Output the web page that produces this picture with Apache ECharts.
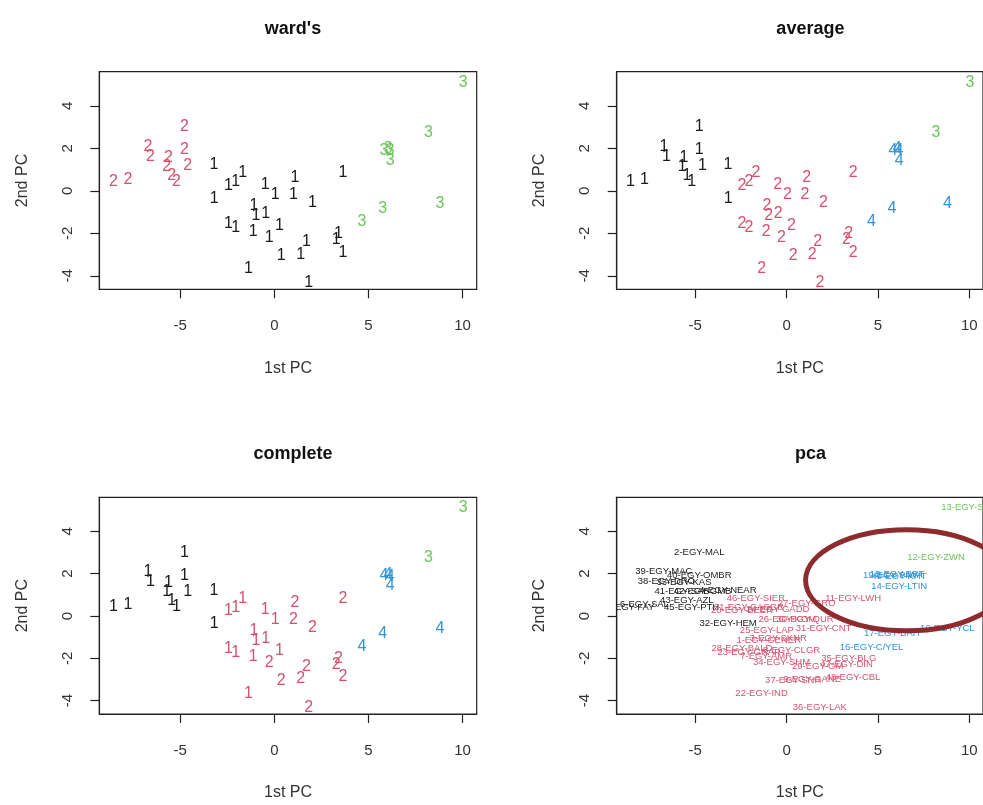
<!DOCTYPE html>
<html>
<head>
<meta charset="utf-8">
<script src="https://cdn.jsdelivr.net/npm/echarts@6/dist/echarts.min.js"></script>
<style>
  html, body { margin: 0; padding: 0; background: #ffffff; overflow: hidden; }
  #chart { width: 983px; height: 805px; }
</style>
</head>
<body>
<div id="chart"></div>
<script>
// Principal component scores of the samples (1st and 2nd PC)
const pc1 = [
  -4.78, -6.72, -6.58, -5.62, -4.78, -5.72, -4.60, -5.46, -5.20, -8.55, -7.78,
  -3.21, -3.20,
  -2.44, -2.06, -1.68, -0.49, 0.04, 1.10, 1.01, 2.02, 3.64,
  -1.08, -0.98, -0.46, -2.44, -2.06, -1.12, -0.28, 0.27, 1.70, 0.36, 1.40,
  3.28, 3.40, 3.64, -1.37, 1.82,
  10.03, 8.18, 5.82, 6.05, 6.15, 6.16, 5.76, 4.65, 8.80
];
const pc2 = [
  3.02, 2.09, 1.62, 1.58, 1.93, 1.15, 1.17, 0.72, 0.43, 0.43, 0.54,
  1.22, -0.35,
  0.25, 0.42, 0.84, 0.32, -0.18, 0.62, -0.17, -0.57, 0.84,
  -0.67, -1.17, -1.05, -1.54, -1.72, -1.90, -2.18, -1.64, -2.40, -3.03, -2.98,
  -2.30, -2.02, -2.88, -3.65, -4.33,
  5.12, 2.76, 1.90, 1.98, 1.88, 1.42, -0.84, -1.46, -0.60
];
const sampleNames = [
  "2-EGY-MAL", "39-EGY-MAC", "38-EGY-DRO", "33-EGY-KAS", "40-EGY-OMBR", "41-EGY-SAB",
  "42-EGY-GMB", "43-EGY-AZL", "45-EGY-PTH", "5-EGY-FAY", "6-EGY-SAL",
  "4-EGY-NEAR", "32-EGY-HEM",
  "20-EGY-BEER", "21-EGY-CASGR", "46-EGY-SIER", "24-EGY-GADD", "26-EGY-KOM",
  "27-EGY-GRO", "30-EGY-QUR", "31-EGY-CNT", "11-EGY-LWH",
  "25-EGY-LAP", "1-EGY-GENER", "3-EGY-SKNR", "28-EGY-BALD", "23-EGY-GRAP",
  "7-EGY-AMR", "34-EGY-SHM", "8-EGY-CLGR", "29-EGY-GM", "37-EGY-SNR", "9-EGY-GANE",
  "47-EGY-DIN", "35-EGY-BLG", "48-EGY-CBL", "22-EGY-IND", "36-EGY-LAK",
  "13-EGY-SWA", "12-EGY-ZWN", "19-EGY-SIWA", "15-EGY-BRT", "49-EGY-KHT",
  "14-EGY-LTIN", "17-EGY-BAH", "16-EGY-C/YEL", "10-EGY-YCL"
];
// Cluster memberships from the three linkage methods
const wardCluster = [
  2, 2, 2, 2, 2, 2, 2, 2, 2, 2, 2,
  1, 1,
  1, 1, 1, 1, 1, 1, 1, 1, 1,
  1, 1, 1, 1, 1, 1, 1, 1, 1, 1, 1,
  1, 1, 1, 1, 1,
  3, 3, 3, 3, 3, 3, 3, 3, 3
];
const averageCluster = [
  1, 1, 1, 1, 1, 1, 1, 1, 1, 1, 1,
  1, 1,
  2, 2, 2, 2, 2, 2, 2, 2, 2,
  2, 2, 2, 2, 2, 2, 2, 2, 2, 2, 2,
  2, 2, 2, 2, 2,
  3, 3, 4, 4, 4, 4, 4, 4, 4
];
const completeCluster = [
  1, 1, 1, 1, 1, 1, 1, 1, 1, 1, 1,
  1, 1,
  1, 1, 1, 1, 1, 2, 2, 2, 2,
  1, 1, 1, 1, 1, 1, 2, 1, 2, 2, 2,
  2, 2, 2, 1, 2,
  3, 3, 4, 4, 4, 4, 4, 4, 4
];
const xTicks = [-5, 0, 5, 10];
const yTicks = [-4, -2, 0, 2, 4];
const panelTitles = ["ward's", "average", "complete", "pca"];
// Ring drawn around the eastern group on the pca panel: centre x, centre y, radius x, radius y
const ringCenterX = [6.57];
const ringCenterY = [1.69];
const ringRadiusX = [5.53];
const ringRadiusY = [2.39];

const palette = ['#1a1a1a', '#D4526E', '#6CC55A', '#2E93DB'];
const FONT = '"Liberation Sans", Arial, sans-serif';
const X_RANGE = [-9.3, 10.75];
const Y_RANGE = [-4.63, 5.61];

const panels = [
  { left: 99.3, top: 71.7, height: 217.6 },
  { left: 616.7, top: 71.7, height: 217.6 },
  { left: 99.3, top: 497.3, height: 216.7 },
  { left: 616.7, top: 497.3, height: 216.7 }
];
const PANEL_WIDTH = 377.4;

// text and colour of every label, per panel
const panelText = [
  i => String(wardCluster[i]),
  i => String(averageCluster[i]),
  i => String(completeCluster[i]),
  i => sampleNames[i]
];
const panelColor = [
  i => palette[wardCluster[i] - 1],
  i => palette[averageCluster[i] - 1],
  i => palette[averageCluster[i] - 1],
  i => palette[averageCluster[i] - 1]
];
const panelFontSize = [16, 16, 16, 9.5];

const grids = panels.map(p => ({
  left: p.left, top: p.top, width: PANEL_WIDTH, height: p.height,
  show: true, borderColor: '#222', borderWidth: 1.2, backgroundColor: 'transparent',
  containLabel: false
}));

const xAxes = panels.map((p, k) => ({
  gridIndex: k, type: 'value', min: X_RANGE[0], max: X_RANGE[1],
  name: '1st PC', nameLocation: 'middle', nameGap: 71,
  nameTextStyle: { fontSize: 16, color: '#333', fontFamily: FONT },
  axisLine: { show: true, onZero: false, lineStyle: { color: '#222', width: 1.2 } },
  axisTick: { show: true, inside: false, length: 9, customValues: xTicks, lineStyle: { color: '#222', width: 1.2 } },
  axisLabel: { customValues: xTicks, margin: 29, fontSize: 15, color: '#333', fontFamily: FONT },
  splitLine: { show: false }
}));

const yAxes = panels.map((p, k) => ({
  gridIndex: k, type: 'value', min: Y_RANGE[0], max: Y_RANGE[1],
  name: '2nd PC', nameLocation: 'middle', nameGap: 69,
  nameTextStyle: { fontSize: 16, color: '#333', fontFamily: FONT },
  axisLine: { show: true, onZero: false, lineStyle: { color: '#222', width: 1.2 } },
  axisTick: { show: true, inside: false, length: 9, customValues: yTicks, lineStyle: { color: '#222', width: 1.2 } },
  axisLabel: { customValues: yTicks, rotate: 90, margin: 24, fontSize: 15, color: '#333', fontFamily: FONT },
  splitLine: { show: false }
}));

const pointData = pc1.map((x, i) => [x, pc2[i]]);

const labelSeries = panels.map((p, k) => ({
  type: 'custom',
  name: panelTitles[k],
  xAxisIndex: k, yAxisIndex: k,
  clip: true,
  data: pointData,
  renderItem: (params, api) => {
    const i = params.dataIndex;
    const pt = api.coord([api.value(0), api.value(1)]);
    return {
      type: 'text',
      x: pt[0], y: pt[1],
      style: {
        text: panelText[k](i),
        fill: panelColor[k](i),
        fontSize: panelFontSize[k],
        fontFamily: FONT,
        align: 'center', verticalAlign: 'middle'
      }
    };
  }
}));

const ringSeries = {
  type: 'custom',
  name: 'ring',
  xAxisIndex: 3, yAxisIndex: 3,
  clip: true,
  data: ringCenterX.map((cx, i) => [cx, ringCenterY[i], ringRadiusX[i], ringRadiusY[i]]),
  renderItem: (params, api) => {
    const c = api.coord([api.value(0), api.value(1)]);
    const r = api.size([api.value(2), api.value(3)]);
    return {
      type: 'ellipse',
      shape: { cx: c[0], cy: c[1], rx: r[0], ry: r[1] },
      style: { fill: 'none', stroke: '#8E2B2E', lineWidth: 5 }
    };
  }
};

const titles = panels.map((p, k) => ({
  text: panelTitles[k],
  left: p.left + PANEL_WIDTH / 2,
  top: p.top - 57,
  textAlign: 'center',
  textStyle: { fontSize: 18, fontWeight: 'bold', color: '#111', fontFamily: FONT }
}));

const chart = echarts.init(document.getElementById('chart'), null, { renderer: 'canvas' });
chart.setOption({
  backgroundColor: '#ffffff',
  animation: false,
  title: titles,
  grid: grids,
  xAxis: xAxes,
  yAxis: yAxes,
  series: [...labelSeries, ringSeries]
});
</script>
</body>
</html>
